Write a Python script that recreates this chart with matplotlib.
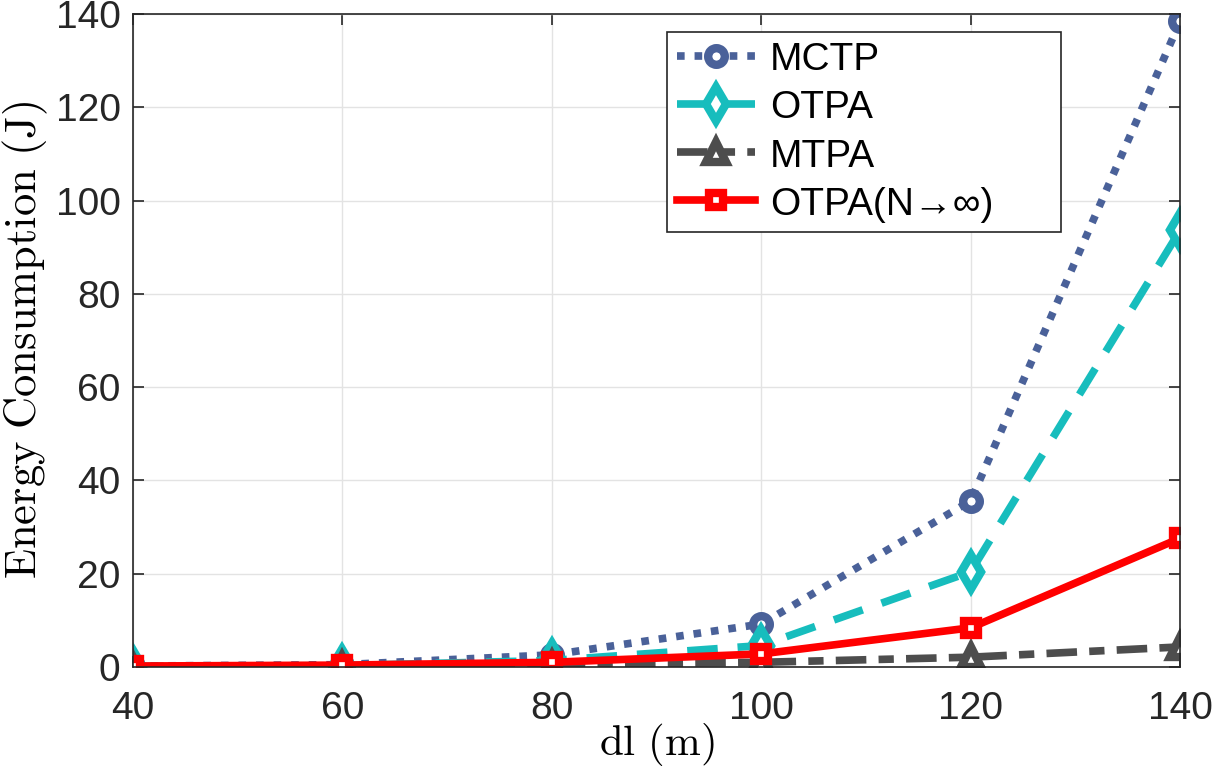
import numpy as np
import matplotlib
matplotlib.use("Agg")
import matplotlib.pyplot as plt

plt.rcParams['font.family'] = ['Liberation Sans', 'DejaVu Sans']
plt.rcParams['mathtext.fontset'] = 'cm'

dl = [40, 60, 80, 100, 120, 140]
mctp = [0.2, 0.5, 2.6, 9.2, 35.6, 138.4]
otpa = [0.1, 0.3, 1.4, 4.6, 20.4, 93.6]
mtpa = [0.1, 0.2, 0.5, 1.0, 2.1, 4.3]
otpa_inf = [0.2, 0.4, 1.0, 2.8, 8.4, 27.6]

fig = plt.figure(figsize=(12.14, 7.79), dpi=100)
ax = fig.add_axes([0.1096, 0.1438, 0.8624, 0.8382])

lw = 5.5
ax.plot(dl, mctp, color='#4a6199', lw=lw, marker='o', ms=12, mew=6,
        mfc='white', label='MCTP', dashes=(1, 1.3), dash_capstyle='butt')
ax.plot(dl, otpa, color='#17bdbd', lw=lw, marker='d', ms=17, mew=6,
        mfc='white', label='OTPA', dashes=(4, 2.6))
ax.plot(dl, mtpa, color='#4d4d4d', lw=lw, marker='^', ms=15, mew=6,
        mfc='white', label='MTPA', dashes=(4, 1.6, 2, 1.6))
ax.plot(dl, otpa_inf, '-', color='#ff0000', lw=lw, marker='s', ms=10, mew=6,
        mfc='white', label='OTPA(N→∞)')

ax.set_xlim(40, 140)
ax.set_ylim(0, 140)
ax.set_xticks(np.arange(40, 141, 20))
ax.set_yticks(np.arange(0, 141, 20))
ax.grid(True, color='#e3e3e3', lw=1)
ax.set_axisbelow(True)
ax.tick_params(direction='in', length=8, width=1.2, labelsize=28,
               colors='#262626', top=True, right=True, pad=9)
ax.tick_params(axis='x', pad=17)
for s in ax.spines.values():
    s.set_color('#262626')
    s.set_linewidth(1.2)

ax.set_xlabel(r'$\mathrm{dl\ (m)}$', fontsize=31, labelpad=-4)
ax.set_ylabel(r'$\mathrm{Energy\ Consumption\ (J)}$', fontsize=32, labelpad=4)

leg = ax.legend(loc='upper left', bbox_to_anchor=(0.51, 0.668, 0.376, 0.304),
                mode='expand', fontsize=28,
                fancybox=False, framealpha=1, edgecolor='#262626',
                handlelength=2.0, borderpad=0.25, labelspacing=0.3,
                handletextpad=0.4, borderaxespad=0, handleheight=0.8)
leg.get_frame().set_linewidth(1.2)

fig.savefig('out.png', dpi=100)
